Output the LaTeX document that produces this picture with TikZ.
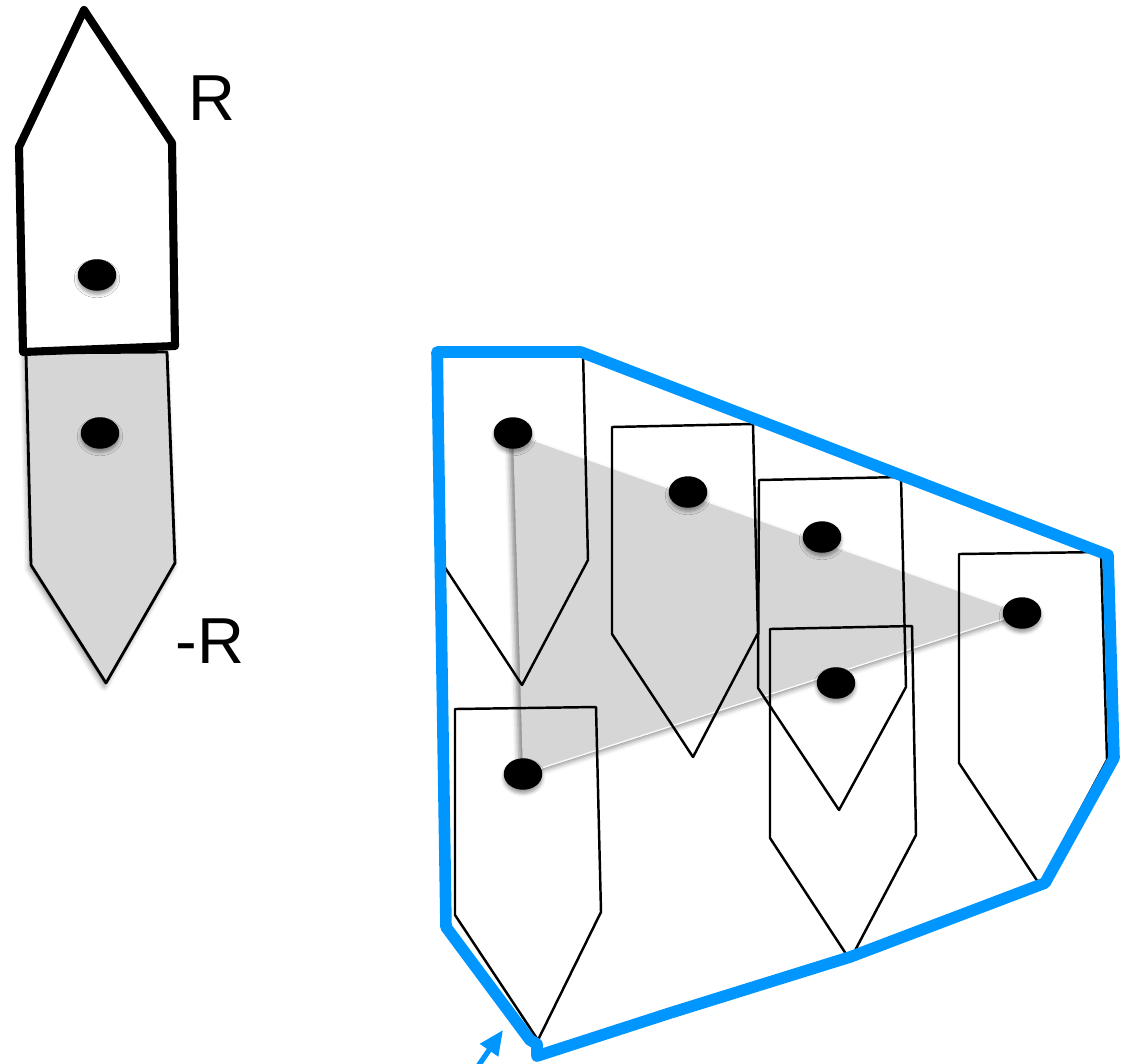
\documentclass[tikz,border=0pt]{standalone}
\usepackage{fontspec}
\setmainfont{Liberation Sans}
\usetikzlibrary{arrows.meta,shapes.geometric,shadows.blur}
\definecolor{hullblue}{RGB}{0,150,255}
\definecolor{tilegray}{RGB}{214,214,214}
\begin{document}
\begin{tikzpicture}[x=0.02cm, y=-0.02cm, line join=round]
    \tikzset{dot/.style={ellipse, fill=black, inner sep=0pt, minimum width=0.77cm, minimum height=0.63cm,
                blur shadow={shadow xshift=0pt, shadow yshift=-2pt, shadow blur radius=2pt, shadow opacity=40}},
             label/.style={inner sep=0pt, font=\fontsize{37}{40}\selectfont},
             tile/.style={draw=black, line width=1.4pt},
             hull/.style={draw=hullblue, line width=6.6pt}}
    \useasboundingbox (0,0) rectangle (1135,1063);
    % R and -R
    \draw[fill=tilegray, line width=1.6pt, blur shadow={shadow xshift=-1pt, shadow yshift=-2pt, shadow blur radius=3pt, shadow opacity=45}]
        (26,353) -- (167,352) -- (175,563) -- (106,683) -- (31,565) -- cycle;
    \draw[fill=white, line width=4.6pt] (84,10) -- (172,143) -- (175,346) -- (23,352) -- (19,147) -- cycle;
    \node[dot] (rdot) at (97,275) {};
    \node[dot] (mdot) at (100,433) {};
    \node[label] (rlab) at (212,98) {R};
    \node[label] (mlab) at (210,641) {-R};
    % triangle behind the tiles
    \coordinate (t1) at (513,433);
    \coordinate (t4) at (1022,613);
    \coordinate (t6) at (523,774);
    \fill[tilegray, blur shadow={shadow xshift=-2pt, shadow yshift=-2pt, shadow blur radius=3pt, shadow opacity=50}]
        (t1) -- (t4) -- (t6) -- cycle;
    \draw[white!85!tilegray, line width=0.8pt] (t1) -- (t4) -- (t6);
    % tiles
    \draw[tile] (442,354) -- (583,352) -- (588,560) -- (522,685) -- (442,563) -- cycle;
    \draw[tile] (612,427) -- (753,424) -- (758,633) -- (693,757) -- (612,634) -- cycle;
    \draw[tile] (759,480) -- (901,477) -- (906,687) -- (839,810) -- (758,688) -- cycle;
    \draw[tile] (770,629) -- (912,626) -- (916,835) -- (850,960) -- (770,838) -- cycle;
    \draw[tile] (959,554) -- (1101,552) -- (1107,760) -- (1040,885) -- (959,763) -- cycle;
    \draw[tile] (455,709) -- (596,707) -- (601,912) -- (538,1040) -- (455,915) -- cycle;
    \node[dot] (p1) at (t1) {};
    \node[dot] (p2) at (688,492) {};
    \node[dot] (p3) at (822,537) {};
    \node[dot] (p4) at (t4) {};
    \node[dot] (p5) at (836,683) {};
    \node[dot] (p6) at (t6) {};
    % hull
    \draw[hull] (437,352) -- (581,352) -- (1108,555) -- (1114,758) -- (1045,883) -- (850,957) -- (670,1013)
        -- (537,1056) -- (537,1044) -- (530,1040) -- (446,927) -- cycle;
    \coordinate (tail) at (474,1072);
    \coordinate (head) at (503,1030);
    \draw[hullblue, line width=3pt, -{Triangle[length=14pt,width=12pt]}] (tail) -- (head);
\end{tikzpicture}
\end{document}
